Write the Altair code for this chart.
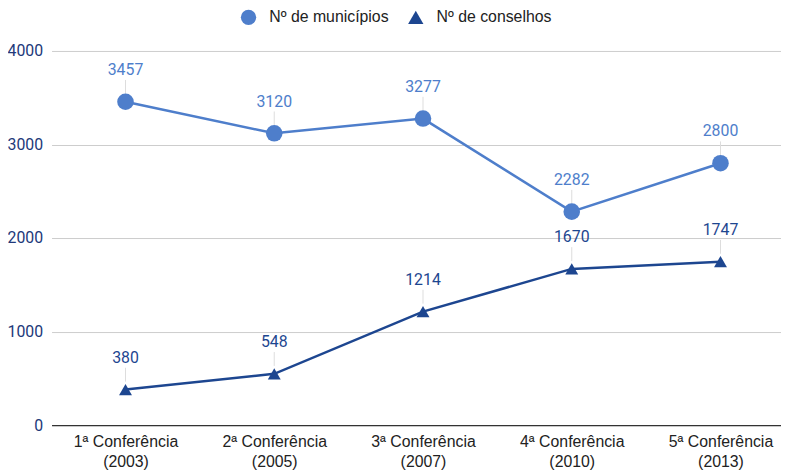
import altair as alt
import pandas as pd

categories = ["1ª Conferência\n(2003)", "2ª Conferência\n(2005)", "3ª Conferência\n(2007)",
              "4ª Conferência\n(2010)", "5ª Conferência\n(2013)"]
municipios = [3457, 3120, 3277, 2282, 2800]
conselhos = [380, 548, 1214, 1670, 1747]
series = ["Nº de municípios", "Nº de conselhos"]
colors = ["#4E7ECB", "#1D4690"]

rows = []
for c, m, k in zip(categories, municipios, conselhos):
    rows.append({"cat": c, "serie": series[0], "v": m})
    rows.append({"cat": c, "serie": series[1], "v": k})
df = pd.DataFrame(rows)

x = alt.X("cat:N", sort=categories, scale=alt.Scale(type="point", padding=0.452, align=0.55),
          axis=alt.Axis(title=None, labelExpr="split(datum.label, '\\n')", labelAngle=0,
                        labelFont="Liberation Sans", labelFontSize=16, labelColor="#222222",
                        labelLineHeight=20, labelPadding=9, ticks=False, domain=True,
                        domainColor="#333333", domainWidth=1.2, grid=False))
y = alt.Y("v:Q", scale=alt.Scale(domain=[0, 4000]),
          axis=alt.Axis(title=None, values=[0, 1000, 2000, 3000, 4000], format="d",
                        labelFont="Roboto", labelFontSize=16, labelColor="#22397A",
                        labelPadding=9, ticks=False, domain=False, grid=True,
                        gridColor="#CCCCCC", gridWidth=1))
leg = alt.Legend(title=None, orient="none", direction="horizontal",
                 legendX=191, legendY=-42, labelFont="Liberation Sans",
                 labelFontSize=16, labelColor="#222222", symbolSize=240,
                 columnPadding=19, labelOffset=13, symbolStrokeWidth=0)
color = alt.Color("serie:N", scale=alt.Scale(domain=series, range=colors), legend=leg)
shape = alt.Shape("serie:N", scale=alt.Scale(domain=series, range=["circle", "triangle-up"]),
                  legend=leg)

base = alt.Chart(df)

leader = base.mark_rule(color="#DDDDDD", strokeWidth=1, yOffset=-8, y2Offset=-22).encode(
    x=x, y=y, y2="v:Q")
lines = base.mark_line(strokeWidth=2.5).encode(x=x, y=y, color=color)
pts_m = base.transform_filter(alt.datum.serie == series[0]).mark_point(
    filled=True, opacity=1, size=280).encode(x=x, y=y, color=color, shape=shape)
pts_c = base.transform_filter(alt.datum.serie == series[1]).mark_point(
    filled=True, opacity=1, size=170).encode(x=x, y=y, color=color, shape=shape)
labels = base.mark_text(font="Roboto", fontSize=16, dy=-24, baseline="bottom").encode(
    x=x, y=y, text="v:Q", color=color)

chart = alt.layer(leader, lines, pts_m, pts_c, labels).properties(
    width=737, height=378,
    autosize=alt.AutoSizeParams(type="none"),
    padding={"left": 44, "top": 41, "right": 0, "bottom": 47},
).configure_view(stroke=None)

chart.save("out.html", embed_options={"renderer": "svg", "actions": False})
